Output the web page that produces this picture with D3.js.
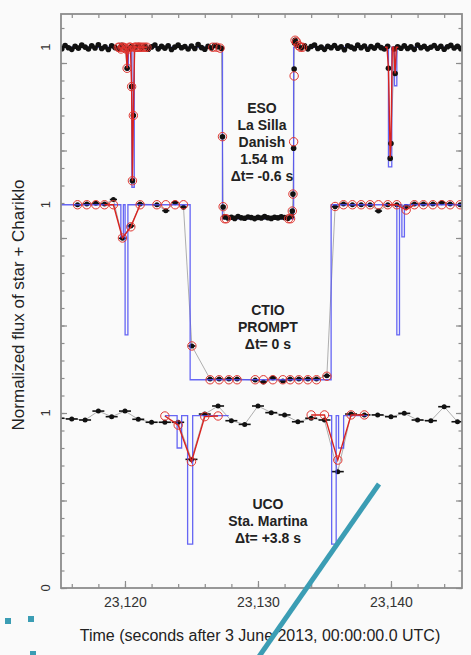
<!DOCTYPE html>
<html>
<head>
<meta charset="utf-8">
<script src="https://cdn.jsdelivr.net/npm/d3@7"></script>
<style>
  body { margin: 0; background: #fafafa; }
  svg { display: block; font-family: "Liberation Sans", Arial, sans-serif; }
  .frame { fill: none; stroke: #8c8c8c; stroke-width: 1.8; }
  .axis line { stroke: #8c8c8c; stroke-width: 1.2; }
  .axis text { fill: #333; font-size: 14px; font-family: "Liberation Sans", Arial, sans-serif; }
  .panel-label { font-weight: bold; font-size: 14px; fill: #222; text-anchor: middle; }
</style>
</head>
<body>
<svg id="chart"></svg>
<script>
// ---------------- data ----------------
// vertical offsets of the three light curves
const esoOffset = 2.09;
const ctioOffset = 1.19;
const ucoOffset = 0;

// ESO La Silla Danish: dense photometry, start + cadence
const esoStart = 23115.0;
const esoStep = 0.25;
const esoFlux = [
  1.004, 0.992, 1.010, 0.997,  // 23115
  0.988, 1.006, 0.995, 1.012,  // 23116
  1.001, 0.990, 1.008, 0.996,  // 23117
  1.014, 0.993, 1.003, 0.987,  // 23118
  1.009, 0.998, 0.991, 1.011,  // 23119
  0.996, 0.990, 1.004, 0.999,  // 23120
  1.010, 0.994, 1.006, 0.989,  // 23121
  1.002, 1.013, 0.991, 1.005,  // 23122
  0.995, 1.008, 0.987, 1.001,  // 23123
  1.012, 0.997, 1.004, 0.990,  // 23124
  1.007, 0.993, 1.015, 0.998,  // 23125
  0.989, 1.006, 0.996, 1.010,  // 23126
  1.003, 0.994, 0.031, 0.024,  // 23127
  0.029, 0.022, 0.033, 0.026,  // 23128
  0.023, 0.030, 0.027, 0.021,  // 23129
  0.028, 0.024, 0.032, 0.026,  // 23130
  0.022, 0.029, 0.025, 0.031,  // 23131
  0.027, 0.023, 0.035, 1.025,  // 23132
  1.012, 0.996, 1.008, 0.991,  // 23133
  1.004, 1.013, 0.993, 1.001,  // 23134
  0.988, 1.006, 0.997, 1.010,  // 23135
  0.994, 1.003, 0.986, 1.009,  // 23136
  1.001, 0.992, 1.012, 0.997,  // 23137
  1.007, 0.989, 1.004, 0.995,  // 23138
  1.011, 0.998, 0.990, 1.006,  // 23139
  0.450, 0.990, 1.003, 0.994,  // 23140
  1.008, 0.993, 1.002, 0.988,  // 23141
  1.013, 0.997, 1.005, 0.991,  // 23142
  1.000, 1.010, 0.994, 1.006,  // 23143
  0.989, 1.003, 1.011, 0.996,  // 23144
  1.005, 0.992, 1.008, 0.999   // 23145
];
// extra ESO samples inside the fast events
const esoEventTime = [23120.16, 23120.50, 23120.56, 23120.63, 23127.33, 23127.38,
  23132.58, 23132.63, 23132.68, 23132.72, 23132.79, 23139.81, 23139.94, 23140.31];
const esoEventFlux = [0.88, 0.775, 0.237, 0.61, 0.489, 0.087,
  0.064, 0.161, 0.423, 0.876, 1.04, 0.88, 0.365, 0.85];
// ESO synthetic points (red circles)
const esoModelTime = [23119.5, 23119.6, 23119.7, 23119.8, 23119.9, 23120.0, 23120.08, 23120.16,
  23120.24, 23120.32, 23120.41, 23120.50, 23120.56, 23120.63, 23120.72, 23120.81, 23120.9,
  23121.0, 23121.1, 23121.2, 23121.35, 23121.5, 23121.65,
  23126.6, 23126.9, 23127.15, 23127.33, 23127.38, 23127.5, 23127.62,
  23132.3, 23132.45, 23132.58, 23132.63, 23132.68, 23132.72, 23132.79, 23132.9, 23133.05,
  23133.2, 23133.35];
const esoModelFlux = [1.0, 1.0, 0.99, 1.0, 1.0, 0.995, 0.99, 0.88,
  0.99, 1.0, 1.0, 0.775, 0.237, 0.61, 1.0, 1.0, 1.0,
  1.0, 1.0, 1.0, 1.0, 1.0, 1.0,
  1.0, 1.0, 0.995, 0.489, 0.089, 0.02, 0.02,
  0.02, 0.02, 0.064, 0.161, 0.46, 0.836, 1.04, 1.03, 1.01,
  1.0, 1.0];
const esoRedWindows = [[23119.45, 23121.7]];
// ESO egress ring model, line only
const esoRingLineTime = [23139.55, 23139.7, 23139.81, 23139.94, 23140.0, 23140.1, 23140.2, 23140.31, 23140.4, 23140.55];
const esoRingLineFlux = [1.0, 1.0, 0.88, 0.37, 0.45, 1.0, 1.0, 0.85, 1.0, 1.0];
// ESO square-well model (blue)
const esoStepTime = [23115.0, 23120.14, 23120.26, 23120.52, 23120.70, 23127.33, 23132.68,
  23139.81, 23140.06, 23140.26, 23140.44, 23145.5];
const esoStepFlux = [1, 0.87, 1, 0.20, 1, 0.02, 1, 0.317, 1, 0.78, 1, 1];

// CTIO PROMPT
const ctioTime = [23116.43, 23117.13, 23117.81, 23118.46, 23119.13, 23119.81, 23120.44, 23121.14,
  23122.40, 23123.07, 23123.77, 23124.40, 23125.03, 23126.40, 23127.08, 23127.81, 23128.43,
  23129.79, 23130.41, 23131.12, 23131.87, 23132.42, 23133.07, 23133.75, 23134.40, 23135.18,
  23135.80, 23136.43, 23137.10, 23137.76, 23138.43, 23139.06, 23139.76, 23140.44, 23141.14,
  23141.76, 23142.44, 23143.15, 23143.82, 23144.45, 23145.20];
const ctioFlux = [1.000, 1.005, 1.008, 1.004, 1.030, 0.808, 0.879, 1.004,
  1.000, 0.966, 1.012, 0.986, 0.193, 0.004, 0.004, 0.004, 0.004,
  -0.002, -0.013, 0.010, -0.007, 0.004, 0.004, 0.004, 0.004, 0.023,
  0.989, 1.004, 1.000, 1.000, 1.000, 0.964, 1.000, 1.000, 0.990,
  1.004, 1.004, 1.004, 1.012, 1.004, 1.000];
const ctioModelFlux = [1, 1, 1, 1, 1, 0.81, 0.874, 1,
  1, 1, 1, 1, 0.193, 0, 0, 0, 0,
  0, 0, 0, 0, 0, 0, 0, 0, 0.02,
  0.99, 1, 1, 1, 1, 1, 1, 1, 0.97,
  1, 1, 1, 1, 1, 1];
const ctioRedWindows = [[23118.4, 23121.2], [23139.7, 23141.8]];
const ctioStepTime = [23115.0, 23119.69, 23119.88, 23120.01, 23120.22, 23124.90, 23135.50,
  23140.44, 23140.64, 23140.82, 23141.01, 23145.5];
const ctioStepFlux = [1, 0.816, 1, 0.256, 1, 0, 1, 0.256, 1, 0.816, 1, 1];

// UCO Sta. Martina
const ucoTime = [23115, 23116, 23117, 23118, 23119, 23120, 23121, 23122, 23123, 23124, 23125,
  23126, 23127, 23128, 23129, 23130, 23131, 23132, 23133, 23134, 23135, 23136, 23137, 23138,
  23139, 23140, 23141, 23142, 23143, 23144, 23145];
const ucoFlux = [0.970, 0.966, 0.960, 1.011, 0.979, 1.011, 0.964, 0.947, 0.947, 0.947, 0.735,
  0.994, 1.040, 0.956, 0.935, 1.040, 1.002, 0.989, 0.950, 0.970, 0.960, 0.665, 0.994, 0.989,
  0.989, 0.979, 0.998, 0.960, 0.956, 1.036, 0.950];
const ucoModelTime = [23123, 23124, 23125, 23126, 23127, 23134, 23135, 23136, 23137, 23138];
const ucoModelFlux = [0.983, 0.931, 0.722, 0.979, 0.983, 0.989, 0.989, 0.731, 0.989, 0.989];
const ucoRedWindows = [[23122.9, 23127.1], [23133.9, 23138.1]];
const ucoStepTime1 = [23123.0, 23123.92, 23124.26, 23124.71, 23125.09, 23127.8];
const ucoStepFlux1 = [0.985, 0.80, 0.985, 0.251, 0.985, 0.985];
const ucoStepTime2 = [23135.3, 23135.54, 23135.88, 23136.06, 23136.44, 23138.2];
const ucoStepFlux2 = [0.985, 0.251, 0.985, 0.80, 0.985, 0.985];

// axis labels
const xLabelTicks = [23120, 23130, 23140];
const yLabelTicks = [0, 1, 1 + ctioOffset, 1 + esoOffset];
const yLabelText = ['0', '1', '1', '1'];
const panelLabels = [
  {lines: ['ESO', 'La Silla', 'Danish', '1.54 m', '\u0394t= -0.6 s'], t: 23130.3, top: 113.3},
  {lines: ['CTIO', 'PROMPT', '\u0394t= 0 s'], t: 23130.75, top: 315},
  {lines: ['UCO', 'Sta. Martina', '\u0394t= +3.8 s'], t: 23130.75, top: 509.3}
];

// ---------------- chart ----------------
const W = 471, H = 655;
const margin = {top: 14, right: 9, bottom: 67, left: 61};
const width = W - margin.left - margin.right;
const height = H - margin.top - margin.bottom;

const svg = d3.select('#chart').attr('width', W).attr('height', H);
svg.append('rect').attr('width', W).attr('height', H).attr('fill', '#fafafa');

const x = d3.scaleLinear().domain([23115.19, 23145.34]).range([0, width]);
const y = d3.scaleLinear().domain([0, 3.28]).range([height, 0]);

const chart = svg.append('g').attr('transform', `translate(${margin.left},${margin.top})`);

chart.append('defs').append('clipPath').attr('id', 'clip')
  .append('rect').attr('width', width).attr('height', height);

// axes with inward ticks
const minorX = d3.range(23116, 23146, 2);
const minorY = d3.range(0, 3.25, 0.1);
const majorY = d3.range(0, 3.25, 0.5);

function addAxis(axis, transform) {
  chart.append('g').attr('class', 'axis').attr('transform', transform)
    .call(axis).call(g => g.select('.domain').remove());
}
addAxis(d3.axisBottom(x).tickValues(minorX).tickSize(-4).tickFormat(''), `translate(0,${height})`);
addAxis(d3.axisTop(x).tickValues(minorX).tickSize(-4).tickFormat(''), 'translate(0,0)');
addAxis(d3.axisBottom(x).tickValues(xLabelTicks).tickSize(-7).tickPadding(9).tickFormat(d3.format(',')),
  `translate(0,${height})`);
addAxis(d3.axisLeft(y).tickValues(minorY).tickSize(-3.5).tickFormat(''), 'translate(0,0)');
addAxis(d3.axisLeft(y).tickValues(majorY).tickSize(-6).tickFormat(''), 'translate(0,0)');
addAxis(d3.axisRight(y).tickValues(minorY).tickSize(-3.5).tickFormat(''), `translate(${width},0)`);
addAxis(d3.axisRight(y).tickValues(majorY).tickSize(-6).tickFormat(''), `translate(${width},0)`);

// rotated "1" / "0" labels
chart.selectAll('.ylab').data(yLabelTicks).join('text')
  .attr('class', 'ylab')
  .attr('transform', d => `translate(-16,${y(d)}) rotate(-90)`)
  .attr('text-anchor', 'middle').attr('dominant-baseline', 'central')
  .attr('font-size', 13).attr('fill', '#333')
  .text((d, i) => yLabelText[i]);

// axis titles
svg.append('text')
  .attr('x', 260).attr('y', 641).attr('text-anchor', 'middle')
  .attr('font-size', 16).attr('fill', '#222')
  .text('Time (seconds after 3 June 2013, 00:00:00.0 UTC)');
svg.append('text')
  .attr('transform', 'translate(18.5,305) rotate(-90)')
  .attr('text-anchor', 'middle').attr('dominant-baseline', 'central')
  .attr('font-size', 17).attr('fill', '#222')
  .text('Normalized flux of star + Chariklo');

// ---------------- light curves ----------------
const plot = chart.append('g').attr('clip-path', 'url(#clip)');

const zip = (ts, fs) => ts.map((t, i) => ({t: t, f: fs[i]}));

const esoData = esoFlux.map((f, i) => ({t: esoStart + i * esoStep, f: f}))
  .concat(zip(esoEventTime, esoEventFlux))
  .sort((a, b) => a.t - b.t);

const panels = [
  {offset: esoOffset, data: esoData, bar: 0, r: 2.8, stepUnder: true,
   model: zip(esoModelTime, esoModelFlux), windows: esoRedWindows,
   extraLines: [zip(esoRingLineTime, esoRingLineFlux)],
   steps: [zip(esoStepTime, esoStepFlux)]},
  {offset: ctioOffset, data: zip(ctioTime, ctioFlux), bar: 0.27, r: 2.5, stepUnder: false,
   model: zip(ctioTime, ctioModelFlux), windows: ctioRedWindows, extraLines: [],
   steps: [zip(ctioStepTime, ctioStepFlux)]},
  {offset: ucoOffset, data: zip(ucoTime, ucoFlux), bar: 0.45, r: 2.5, stepUnder: false,
   model: zip(ucoModelTime, ucoModelFlux), windows: ucoRedWindows, extraLines: [],
   steps: [zip(ucoStepTime1, ucoStepFlux1), zip(ucoStepTime2, ucoStepFlux2)]}
];

panels.forEach(p => {
  const line = d3.line().x(d => x(d.t)).y(d => y(d.f + p.offset));
  const step = d3.line().x(d => x(d.t)).y(d => y(d.f + p.offset)).curve(d3.curveStepAfter);

  const drawSteps = () => p.steps.forEach(s => {
    plot.append('path').datum(s)
      .attr('d', step).attr('fill', 'none')
      .attr('stroke', '#4b4bf2').attr('stroke-opacity', 0.85).attr('stroke-width', 1.3);
  });

  // thin gray line joining observations
  plot.append('path').datum(p.data)
    .attr('d', line).attr('fill', 'none').attr('stroke', '#9a9a9a').attr('stroke-width', 0.8);

  if (p.stepUnder) drawSteps();

  // exposure bars
  if (p.bar > 0) {
    plot.selectAll(null).data(p.data).join('line')
      .attr('x1', d => x(d.t - p.bar)).attr('x2', d => x(d.t + p.bar))
      .attr('y1', d => y(d.f + p.offset)).attr('y2', d => y(d.f + p.offset))
      .attr('stroke', '#111').attr('stroke-width', 1.6);
  }

  // observed points
  plot.selectAll(null).data(p.data).join('circle')
    .attr('cx', d => x(d.t)).attr('cy', d => y(d.f + p.offset))
    .attr('r', p.r).attr('fill', '#111');

  // square-well model
  if (!p.stepUnder) drawSteps();

  // synthetic model: red line in the ring windows, red circles
  p.windows.forEach(w => {
    plot.append('path').datum(p.model.filter(d => d.t >= w[0] && d.t <= w[1]))
      .attr('d', line).attr('fill', 'none').attr('stroke', '#d9231f').attr('stroke-width', 1.4);
  });
  p.extraLines.forEach(l => {
    plot.append('path').datum(l)
      .attr('d', line).attr('fill', 'none').attr('stroke', '#d9231f').attr('stroke-width', 1.4);
  });
  plot.selectAll(null).data(p.model).join('circle')
    .attr('cx', d => x(d.t)).attr('cy', d => y(d.f + p.offset))
    .attr('r', 4.2).attr('fill', 'none').attr('stroke', '#e0352f').attr('stroke-width', 1);
});

// frame
chart.append('rect').attr('class', 'frame').attr('width', width).attr('height', height);

// station labels
panelLabels.forEach(pl => {
  chart.append('text').attr('class', 'panel-label')
    .selectAll('tspan').data(pl.lines).join('tspan')
    .attr('x', x(pl.t)).attr('y', (d, i) => pl.top - margin.top + i * 17)
    .text(d => d);
});

// slide decoration overlapping the figure
svg.append('line').attr('x1', 379).attr('y1', 484).attr('x2', 258).attr('y2', 658)
  .attr('stroke', '#3b9db4').attr('stroke-width', 5);
[[5, 618], [28, 616], [30, 651]].forEach(s => {
  svg.append('rect').attr('x', s[0]).attr('y', s[1]).attr('width', 6).attr('height', 6)
    .attr('fill', '#3b9db4');
});
</script>
</body>
</html>
